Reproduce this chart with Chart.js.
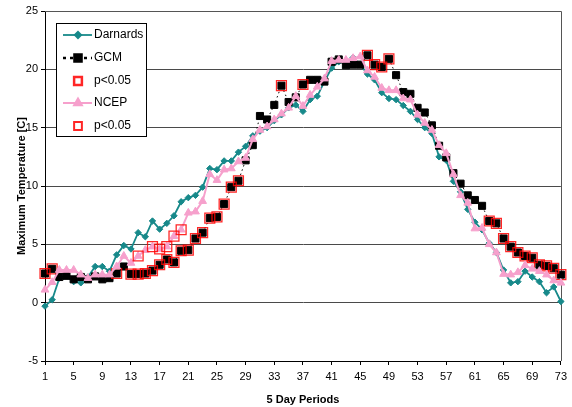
<!DOCTYPE html>
<html>
<head>
<meta charset="utf-8">
<script src="https://cdn.jsdelivr.net/npm/chart.js@4.4.0/dist/chart.umd.min.js"></script>
<style>
  body { margin: 0; background: #fff; }
  #wrap { width: 572px; height: 407px; }
</style>
</head>
<body>
<div id="wrap"><canvas id="myChart" width="572" height="407"></canvas></div>
<script>
// 5 day periods (categories)
const periods = [1, 2, 3, 4, 5, 6, 7, 8, 9, 10, 11, 12, 13, 14, 15, 16, 17, 18, 19, 20,
  21, 22, 23, 24, 25, 26, 27, 28, 29, 30, 31, 32, 33, 34, 35, 36, 37, 38, 39, 40,
  41, 42, 43, 44, 45, 46, 47, 48, 49, 50, 51, 52, 53, 54, 55, 56, 57, 58, 59, 60,
  61, 62, 63, 64, 65, 66, 67, 68, 69, 70, 71, 72, 73];
const tickLabels = [1, 5, 9, 13, 17, 21, 25, 29, 33, 37, 41, 45, 49, 53, 57, 61, 65, 69, 73];

// series values
const darnards = [-0.3, 0.25, 2.1, 2.3, 1.8, 1.7, 2.2, 3.1, 3.1, 2.7,
  4.1, 4.9, 4.6, 6.0, 5.65, 7.0, 6.3, 6.8, 7.45, 8.65,
  9.0, 9.2, 9.9, 11.5, 11.4, 12.15, 12.15, 12.9, 13.4, 14.3,
  14.7, 15.0, 15.6, 16.1, 16.7, 16.95, 16.4, 17.4, 17.7, 18.95,
  20.1, 20.65, 20.5, 21.0, 20.4, 19.6, 19.1, 18.0, 17.5, 17.4,
  16.9, 16.4, 15.7, 15.0, 14.5, 12.5, 12.2, 10.4, 9.5, 8.0,
  6.9, 6.25, 5.1, 4.3, 2.8, 1.7, 1.8, 2.7, 2.2, 1.8,
  0.85, 1.35, 0.1];
const gcm = [2.5, 2.9, 2.2, 2.3, 2.0, 2.2, 2.0, 2.25, 2.0, 2.1,
  2.5, 3.1, 2.45, 2.45, 2.5, 2.75, 3.25, 3.7, 3.45, 4.45,
  4.5, 5.5, 6.0, 7.25, 7.35, 8.45, 9.9, 10.45, 12.2, 13.5,
  16.0, 15.7, 16.95, 18.6, 17.2, 17.6, 18.7, 19.1, 19.1, 18.95,
  20.65, 20.85, 20.35, 20.4, 20.4, 21.2, 20.4, 20.2, 20.9, 19.5,
  18.05, 17.9, 16.7, 16.3, 15.2, 13.45, 12.45, 11.1, 10.2, 9.2,
  8.8, 8.3, 7.0, 6.8, 5.5, 4.8, 4.3, 4.0, 3.85, 3.25,
  3.15, 2.95, 2.4];
const ncep = [1.1, 1.75, 2.8, 2.8, 2.8, 2.4, 2.1, 2.4, 2.4, 2.4,
  3.1, 4.0, 3.4, 4.0, 4.5, 4.8, 4.6, 4.8, 5.7, 6.25,
  7.7, 7.8, 8.7, 11.0, 10.5, 11.4, 11.5, 12.1, 12.4, 14.0,
  14.8, 15.1, 15.7, 16.2, 16.7, 17.7, 16.85, 17.8, 18.5, 19.2,
  20.7, 20.8, 20.8, 20.95, 21.1, 19.9, 19.35, 18.4, 18.2, 18.2,
  17.5, 17.4, 16.1, 15.4, 14.8, 13.5, 12.8, 11.0, 9.2, 8.55,
  6.35, 6.4, 5.0, 4.3, 2.45, 2.4, 2.6, 3.2, 2.9, 2.7,
  2.4, 1.9, 1.7];

// periods where the difference is significant (p<0.05)
const gcmSig = [1, 2, 11, 13, 14, 15, 16, 17, 18, 19, 20, 21, 22, 23, 24, 25, 26, 27, 28,
  34, 37, 46, 47, 48, 49, 63, 64, 65, 66, 67, 68, 69, 70, 71, 72, 73];
const ncepSig = [14, 16, 17, 18, 19, 20];

const ctx = document.getElementById("myChart");
const FONT = "'Liberation Sans', Arial, sans-serif";
const teal = "#17898A";
const pink = "#F6A0CC";
const red = "rgba(255,0,0,0.85)";

const sigData = (vals, list) => periods.map((p, i) => (list.includes(p) ? vals[i] : null));

// legend inside the plot, drawn by hand
const legendBox = {
  id: "legendBox",
  afterDraw(chart) {
    const c = chart.ctx;
    c.save();
    c.fillStyle = "#fff";
    c.strokeStyle = "#000";
    c.lineWidth = 1;
    c.fillRect(56.5, 23.5, 90, 113);
    c.strokeRect(56.5, 23.5, 90, 113);
    const rows = [35, 58, 81, 103, 126];
    chart.data.datasets.forEach((ds, i) => {
      const y = rows[i];
      if (ds.showLine !== false) {
        c.beginPath();
        c.strokeStyle = ds.borderColor;
        c.lineWidth = ds.legendLine || ds.borderWidth;
        c.setLineDash(ds.legendDash || []);
        c.moveTo(63, y);
        c.lineTo(92, y);
        c.stroke();
        c.setLineDash([]);
      }
      c.fillStyle = ds.pointBackgroundColor;
      c.strokeStyle = ds.pointBorderColor;
      Chart.helpers.drawPoint(c, {
        pointStyle: ds.pointStyle,
        radius: ds.showLine === false ? 5.5 : ds.pointRadius,
        borderWidth: ds.pointBorderWidth || 1,
        rotation: 0
      }, 78, y);
      c.fillStyle = "#000";
      c.font = "12px " + FONT;
      c.textBaseline = "middle";
      c.fillText(ds.label, 94, y);
    });
    c.restore();
  }
};

// top and right border of the plot area
const plotFrame = {
  id: "plotFrame",
  beforeDatasetsDraw(chart) {
    const a = chart.chartArea;
    const c = chart.ctx;
    c.save();
    c.strokeStyle = "#555";
    c.lineWidth = 1;
    c.beginPath();
    c.moveTo(Math.round(a.left), Math.round(a.top) + 0.5);
    c.lineTo(Math.round(a.right) + 0.5, Math.round(a.top) + 0.5);
    c.lineTo(Math.round(a.right) + 0.5, Math.round(a.bottom));
    c.stroke();
    c.restore();
  }
};

new Chart(ctx, {
  type: "line",
  data: {
    labels: periods,
    datasets: [
      {
        label: "Darnards", data: darnards, order: 5,
        borderColor: teal, borderWidth: 1.8,
        pointStyle: "rectRot", pointRadius: 3.2,
        pointBackgroundColor: teal, pointBorderColor: teal, pointBorderWidth: 1
      },
      {
        label: "GCM", data: gcm, order: 4,
        borderColor: "#000", borderWidth: 1, borderDash: [1.5, 3],
        legendLine: 2.5, legendDash: [3, 4],
        pointStyle: "rect", pointRadius: 5,
        pointBackgroundColor: "#000", pointBorderColor: "#000", pointBorderWidth: 1
      },
      {
        label: "p<0.05", data: sigData(gcm, gcmSig), order: 3, showLine: false,
        borderColor: red,
        pointStyle: "rect", pointRadius: 7,
        pointBackgroundColor: "rgba(0,0,0,0)", pointBorderColor: red, pointBorderWidth: 1.3
      },
      {
        label: "NCEP", data: ncep, order: 2,
        borderColor: pink, borderWidth: 2,
        pointStyle: "triangle", pointRadius: 4.5,
        pointBackgroundColor: pink, pointBorderColor: pink, pointBorderWidth: 1
      },
      {
        label: "p<0.05", data: sigData(ncep, ncepSig), order: 1, showLine: false,
        borderColor: red,
        pointStyle: "rect", pointRadius: 7,
        pointBackgroundColor: "rgba(0,0,0,0)", pointBorderColor: red, pointBorderWidth: 1.3
      }
    ]
  },
  options: {
    responsive: false,
    animation: false,
    spanGaps: false,
    layout: { padding: { left: 11, right: 7, top: 11, bottom: 0 } },
    plugins: {
      legend: { display: false },
      tooltip: { enabled: false }
    },
    scales: {
      x: {
        offset: false,
        grid: {
          drawOnChartArea: false,
          drawTicks: true,
          tickLength: 4,
          tickColor: (c) => (c.index % 4 === 0 ? "#000" : "rgba(0,0,0,0)")
        },
        border: { color: "#000", width: 1 },
        ticks: {
          autoSkip: false,
          maxRotation: 0,
          padding: 5,
          color: "#000",
          font: { family: FONT, size: 11 },
          callback: (v, i) => (tickLabels.includes(periods[i]) ? periods[i] : "")
        },
        title: {
          display: true, text: "5 Day Periods", color: "#000",
          font: { family: FONT, size: 11, weight: "bold" },
          padding: { top: 4, bottom: 0 }
        },
        afterFit: (s) => { s.height = 46; }
      },
      y: {
        min: -5,
        max: 25,
        grid: { color: "#4a4a4a", tickLength: 4, tickColor: "#000" },
        border: { color: "#000", width: 1 },
        ticks: {
          stepSize: 5,
          padding: 3,
          color: "#000",
          font: { family: FONT, size: 11 }
        },
        title: {
          display: true, text: "Maximum Temperature [C]", color: "#000",
          font: { family: FONT, size: 11, weight: "bold" },
          padding: { top: 4, bottom: 4 }
        },
        afterFit: (s) => { s.width = 34; }
      }
    }
  },
  plugins: [plotFrame, legendBox]
});
</script>
</body>
</html>
